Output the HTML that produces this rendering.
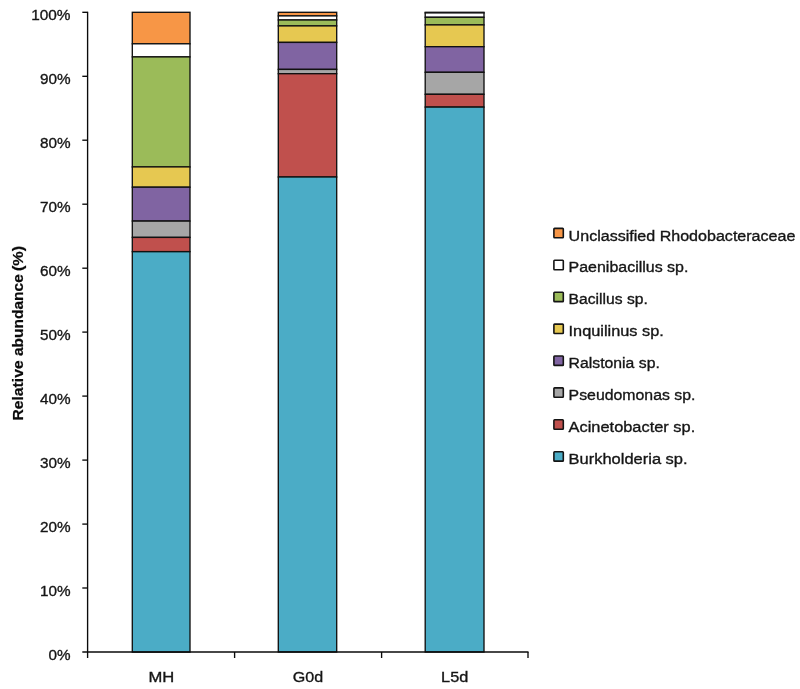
<!DOCTYPE html>
<html lang="en"><head><meta charset="utf-8"><title>Relative abundance</title>
<style>
html,body{margin:0;padding:0;background:#fff;}
body{width:800px;height:689px;overflow:hidden;}
svg{display:block;}
text{font-family:"Liberation Sans",Arial,sans-serif;fill:#151515;stroke:#151515;stroke-width:0.35px;}
.t{font-size:15.5px;}
.y{font-size:15.3px;}
.b{font-size:15.3px;font-weight:bold;fill:#0a0a0a;stroke:#0a0a0a;stroke-width:0.2px;}
</style></head><body>
<svg width="800" height="689" viewBox="0 0 800 689">
<rect width="800" height="689" fill="#fff"/>
<rect x="132.3" y="12.3" width="57.7" height="31.5" fill="#f79646" stroke="#111" stroke-width="1.35"/>
<rect x="132.3" y="43.8" width="57.7" height="13.1" fill="#ffffff" stroke="#111" stroke-width="1.35"/>
<rect x="132.3" y="56.9" width="57.7" height="110.1" fill="#9bbb59" stroke="#111" stroke-width="1.35"/>
<rect x="132.3" y="166.9" width="57.7" height="20.3" fill="#e6c851" stroke="#111" stroke-width="1.35"/>
<rect x="132.3" y="187.2" width="57.7" height="33.8" fill="#8064a2" stroke="#111" stroke-width="1.35"/>
<rect x="132.3" y="221.1" width="57.7" height="16.3" fill="#a6a6a6" stroke="#111" stroke-width="1.35"/>
<rect x="132.3" y="237.4" width="57.7" height="14.2" fill="#c0504d" stroke="#111" stroke-width="1.35"/>
<rect x="132.3" y="251.7" width="57.7" height="400.4" fill="#4bacc6" stroke="#111" stroke-width="1.35"/>
<rect x="278.3" y="12.3" width="58.4" height="3.6" fill="#f79646" stroke="#111" stroke-width="1.35"/>
<rect x="278.3" y="15.9" width="58.4" height="4.1" fill="#ffffff" stroke="#111" stroke-width="1.35"/>
<rect x="278.3" y="20.0" width="58.4" height="5.9" fill="#9bbb59" stroke="#111" stroke-width="1.35"/>
<rect x="278.3" y="25.9" width="58.4" height="16.5" fill="#e6c851" stroke="#111" stroke-width="1.35"/>
<rect x="278.3" y="42.4" width="58.4" height="27.0" fill="#8064a2" stroke="#111" stroke-width="1.35"/>
<rect x="278.3" y="69.4" width="58.4" height="4.3" fill="#a6a6a6" stroke="#111" stroke-width="1.35"/>
<rect x="278.3" y="73.7" width="58.4" height="103.3" fill="#c0504d" stroke="#111" stroke-width="1.35"/>
<rect x="278.3" y="177.0" width="58.4" height="475.0" fill="#4bacc6" stroke="#111" stroke-width="1.35"/>
<rect x="425.2" y="12.3" width="58.8" height="0.6" fill="#f79646" stroke="#111" stroke-width="1.35"/>
<rect x="425.2" y="12.9" width="58.8" height="4.4" fill="#ffffff" stroke="#111" stroke-width="1.35"/>
<rect x="425.2" y="17.3" width="58.8" height="7.6" fill="#9bbb59" stroke="#111" stroke-width="1.35"/>
<rect x="425.2" y="24.9" width="58.8" height="21.8" fill="#e6c851" stroke="#111" stroke-width="1.35"/>
<rect x="425.2" y="46.7" width="58.8" height="25.6" fill="#8064a2" stroke="#111" stroke-width="1.35"/>
<rect x="425.2" y="72.3" width="58.8" height="22.0" fill="#a6a6a6" stroke="#111" stroke-width="1.35"/>
<rect x="425.2" y="94.3" width="58.8" height="12.8" fill="#c0504d" stroke="#111" stroke-width="1.35"/>
<rect x="425.2" y="107.1" width="58.8" height="544.9" fill="#4bacc6" stroke="#111" stroke-width="1.35"/>
<g stroke="#0a0a0a" stroke-width="1.35" fill="none">
<path d="M87.6 11.8 V658"/>
<path d="M82.3 652.0 H528.5"/>
<path d="M82.3 588.0 H87.6"/>
<path d="M82.3 524.1 H87.6"/>
<path d="M82.3 460.1 H87.6"/>
<path d="M82.3 396.1 H87.6"/>
<path d="M82.3 332.1 H87.6"/>
<path d="M82.3 268.2 H87.6"/>
<path d="M82.3 204.2 H87.6"/>
<path d="M82.3 140.2 H87.6"/>
<path d="M82.3 76.3 H87.6"/>
<path d="M82.3 12.3 H87.6"/>
<path d="M234.6 652.0 V658"/>
<path d="M381.6 652.0 V658"/>
<path d="M528.0 652.0 V658"/>
</g>
<text class="t y" x="70.5" y="660.1" text-anchor="end" textLength="22.0" lengthAdjust="spacingAndGlyphs">0%</text>
<text class="t y" x="70.5" y="596.2" text-anchor="end" textLength="30.6" lengthAdjust="spacingAndGlyphs">10%</text>
<text class="t y" x="70.5" y="532.2" text-anchor="end" textLength="30.6" lengthAdjust="spacingAndGlyphs">20%</text>
<text class="t y" x="70.5" y="468.2" text-anchor="end" textLength="30.6" lengthAdjust="spacingAndGlyphs">30%</text>
<text class="t y" x="70.5" y="404.3" text-anchor="end" textLength="30.6" lengthAdjust="spacingAndGlyphs">40%</text>
<text class="t y" x="70.5" y="340.3" text-anchor="end" textLength="30.6" lengthAdjust="spacingAndGlyphs">50%</text>
<text class="t y" x="70.5" y="276.3" text-anchor="end" textLength="30.6" lengthAdjust="spacingAndGlyphs">60%</text>
<text class="t y" x="70.5" y="212.4" text-anchor="end" textLength="30.6" lengthAdjust="spacingAndGlyphs">70%</text>
<text class="t y" x="70.5" y="148.4" text-anchor="end" textLength="30.6" lengthAdjust="spacingAndGlyphs">80%</text>
<text class="t y" x="70.5" y="84.4" text-anchor="end" textLength="30.6" lengthAdjust="spacingAndGlyphs">90%</text>
<text class="t y" x="70.5" y="19.9" text-anchor="end" textLength="39.3" lengthAdjust="spacingAndGlyphs">100%</text>
<text class="t" x="161.3" y="682.4" text-anchor="middle" textLength="25.8" lengthAdjust="spacingAndGlyphs">MH</text>
<text class="t" x="308.0" y="682.4" text-anchor="middle" textLength="30.4" lengthAdjust="spacingAndGlyphs">G0d</text>
<text class="t" x="454.7" y="682.4" text-anchor="middle" textLength="27.2" lengthAdjust="spacingAndGlyphs">L5d</text>
<g transform="translate(23.2 419.8) rotate(-90)">
<text class="b" x="-0.8" y="0" textLength="60.3" lengthAdjust="spacingAndGlyphs">Relative</text>
<text class="b" x="63.8" y="0" textLength="81.8" lengthAdjust="spacingAndGlyphs">abundance</text>
<text class="b" x="148.7" y="0" textLength="25.2" lengthAdjust="spacingAndGlyphs">(%)</text>
</g>
<rect x="553.9" y="228.4" width="9.4" height="9.4" rx="0.7" fill="#f79646" stroke="#141414" stroke-width="1.6"/>
<text class="t" x="568.6" y="240.9" textLength="226.8" lengthAdjust="spacingAndGlyphs">Unclassified Rhodobacteraceae</text>
<rect x="553.9" y="260.3" width="9.4" height="9.4" rx="0.7" fill="#ffffff" stroke="#141414" stroke-width="1.6"/>
<text class="t" x="568.6" y="272.0" textLength="119.8" lengthAdjust="spacingAndGlyphs">Paenibacillus sp.</text>
<rect x="553.9" y="292.2" width="9.4" height="9.4" rx="0.7" fill="#9bbb59" stroke="#141414" stroke-width="1.6"/>
<text class="t" x="568.6" y="304.3" textLength="79.2" lengthAdjust="spacingAndGlyphs">Bacillus sp.</text>
<rect x="553.9" y="324.1" width="9.4" height="9.4" rx="0.7" fill="#e6c851" stroke="#141414" stroke-width="1.6"/>
<text class="t" x="568.6" y="336.2" textLength="95.2" lengthAdjust="spacingAndGlyphs">Inquilinus sp.</text>
<rect x="553.9" y="356.0" width="9.4" height="9.4" rx="0.7" fill="#8064a2" stroke="#141414" stroke-width="1.6"/>
<text class="t" x="568.6" y="368.3" textLength="91.2" lengthAdjust="spacingAndGlyphs">Ralstonia sp.</text>
<rect x="553.9" y="387.9" width="9.4" height="9.4" rx="0.7" fill="#a6a6a6" stroke="#141414" stroke-width="1.6"/>
<text class="t" x="568.6" y="399.9" textLength="126.8" lengthAdjust="spacingAndGlyphs">Pseudomonas sp.</text>
<rect x="553.9" y="419.8" width="9.4" height="9.4" rx="0.7" fill="#c0504d" stroke="#141414" stroke-width="1.6"/>
<text class="t" x="568.6" y="431.6" textLength="126.6" lengthAdjust="spacingAndGlyphs">Acinetobacter sp.</text>
<rect x="553.9" y="451.7" width="9.4" height="9.4" rx="0.7" fill="#4bacc6" stroke="#141414" stroke-width="1.6"/>
<text class="t" x="568.6" y="463.5" textLength="119.0" lengthAdjust="spacingAndGlyphs">Burkholderia sp.</text>
</svg></body></html>
